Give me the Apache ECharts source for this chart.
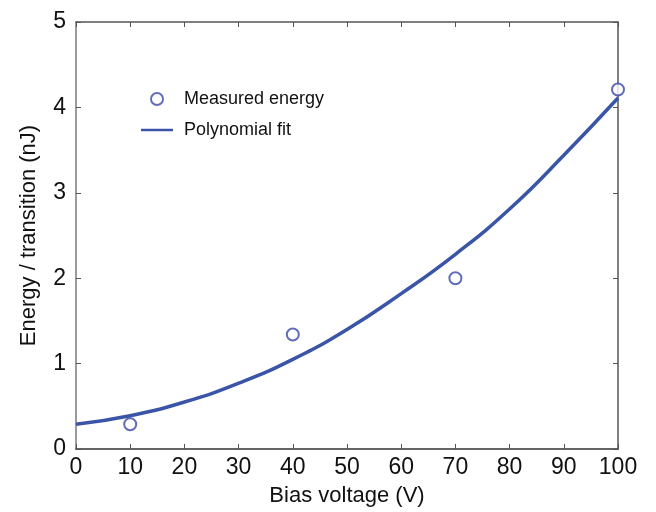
<!DOCTYPE html>
<html><head><meta charset="utf-8">
<script src="https://cdn.jsdelivr.net/npm/echarts@6/dist/echarts.min.js"></script>
<style>html,body{margin:0;padding:0;background:#fff}#c{width:656px;height:512px}</style>
</head><body><div id="c"></div>
<script>
const measuredX = [10, 40, 70, 100];
const measuredY = [0.29, 1.34, 2.0, 4.21];
const fitX = [0, 10, 20, 30, 40, 50, 60, 70, 80, 90, 100];
const fitY = [0.29, 0.39, 0.55, 0.77, 1.05, 1.40, 1.82, 2.28, 2.81, 3.44, 4.11];
const xTicks = {min: 0, max: 100, interval: 10};
const yTicks = {min: 0, max: 5, interval: 1};

const font = 'Liberation Sans, Arial, sans-serif';
const chart = echarts.init(document.getElementById('c'), null, {renderer: 'canvas'});
const axCol = '#555';
const blue = '#3a55a8';
const ring = '#3a48a8';
function baseAxis(extra) {
  return Object.assign({
    type: 'value',
    axisLine: {show: true, onZero: false, lineStyle: {color: axCol, width: 1.5}},
    axisTick: {show: true, inside: true, length: 5, lineStyle: {color: axCol, width: 1}},
    splitLine: {show: false}
  }, extra);
}
chart.setOption({
  animation: false,
  grid: {left: 76, right: 38, top: 22, bottom: 63, containLabel: false},
  legend: {
    orient: 'vertical', left: 136, top: 85, itemGap: 13, itemWidth: 32, itemHeight: 14,
    textStyle: {fontFamily: font, fontSize: 18, color: '#111', padding: [0, 0, 0, 6]},
    data: [
      {name: 'Measured energy', icon: 'path://M6.5,0A6.5,6.5,0,1,1,6.49,0ZM6.5,1.8A4.7,4.7,0,1,0,6.51,1.8Z', itemStyle: {color: ring, borderWidth: 0}},
      {name: 'Polynomial fit', icon: 'path://M0,0H32V2.5H0Z', itemStyle: {color: blue, borderWidth: 0}}
    ]
  },
  xAxis: [
    baseAxis({position: 'bottom', min: xTicks.min, max: xTicks.max, interval: xTicks.interval,
      axisLine: {show: true, onZero: false, lineStyle: {color: '#333', width: 1.5}},
      axisLabel: {fontFamily: font, fontSize: 23, color: '#111', margin: 7},
      name: 'Bias voltage (V)', nameLocation: 'middle', nameGap: 36,
      nameTextStyle: {fontFamily: font, fontSize: 22, color: '#111'}}),
    baseAxis({position: 'top', min: xTicks.min, max: xTicks.max, interval: xTicks.interval,
      axisLabel: {show: false}})
  ],
  yAxis: [
    baseAxis({position: 'left', min: yTicks.min, max: yTicks.max, interval: yTicks.interval,
      axisLine: {show: true, onZero: false, lineStyle: {color: '#7a7a7a', width: 1.5}},
      axisLabel: {fontFamily: font, fontSize: 23, color: '#111', margin: 10},
      name: 'Energy / transition (nJ)', nameLocation: 'middle', nameGap: 36,
      nameTextStyle: {fontFamily: font, fontSize: 22, color: '#111'}}),
    baseAxis({position: 'right', min: yTicks.min, max: yTicks.max, interval: yTicks.interval,
      axisLabel: {show: false}})
  ],
  series: [
    {
      name: 'Polynomial fit', type: 'line', smooth: true, symbol: 'none', z: 2,
      lineStyle: {color: blue, width: 3.5, join: 'round'}, itemStyle: {color: blue},
      data: fitX.map((x, i) => [x, fitY[i]])
    },
    {
      name: 'Measured energy', type: 'scatter', symbol: 'emptyCircle', symbolSize: 12, z: 3,
      itemStyle: {color: ring, borderColor: ring, borderWidth: 2},
      data: measuredX.map((x, i) => [x, measuredY[i]])
    }
  ]
});
</script></body></html>
